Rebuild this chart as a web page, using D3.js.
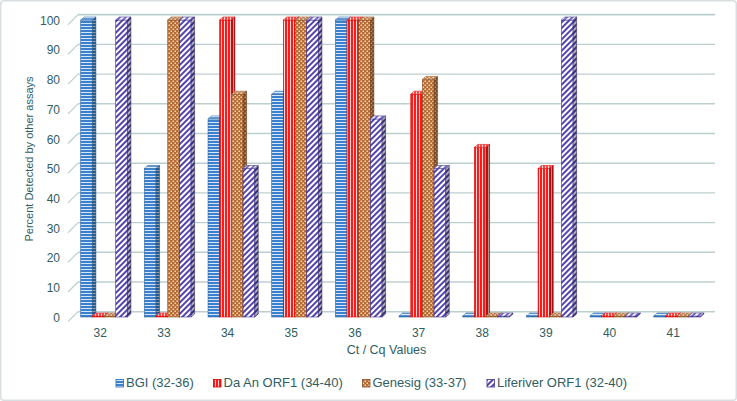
<!DOCTYPE html>
<html><head><meta charset="utf-8">
<script src="https://cdn.jsdelivr.net/npm/d3@7"></script>
<style>
html,body{margin:0;padding:0;background:#fff;}
svg{display:block;font-family:"Liberation Sans",Arial,sans-serif;}
</style></head>
<body>
<svg id="c" width="737" height="401"></svg>
<script>
const categories = ["32","33","34","35","36","37","38","39","40","41"];
const seriesNames = ["BGI (32-36)","Da An ORF1 (34-40)","Genesig (33-37)","Liferiver ORF1 (32-40)"];
const bgi       = [100, 50, 66.7, 75, 100, 0, 0, 0, 0, 0];
const daAn      = [0, 0, 100, 100, 100, 75, 57.1, 50, 0, 0];
const genesig   = [0, 100, 75, 100, 100, 80, 0, 0, 0, 0];
const liferiver = [100, 100, 50, 100, 66.7, 50, 0, 100, 0, 0];
const yTicks = [0,10,20,30,40,50,60,70,80,90,100];
const seriesValues = [bgi, daAn, genesig, liferiver];

const svg = d3.select("#c");
const textColor = "#2f5d62";
const gridColor = "#bccfcf";

svg.append("rect").attr("x",0.75).attr("y",0.75).attr("width",735.5).attr("height",399.5)
  .attr("rx",3).attr("fill","#fff").attr("stroke","#d9dfe0").attr("stroke-width",1.5);

const defs = svg.append("defs");
// BGI: blue horizontal stripes
let p = defs.append("pattern").attr("id","p0").attr("patternUnits","userSpaceOnUse").attr("width",4).attr("height",3);
p.append("rect").attr("width",4).attr("height",3).attr("fill","#3a80cc");
p.append("rect").attr("y",2).attr("width",4).attr("height",1).attr("fill","#d6e6f6");
// Da An: red vertical stripes
p = defs.append("pattern").attr("id","p1").attr("patternUnits","userSpaceOnUse").attr("width",3).attr("height",4);
p.append("rect").attr("width",3).attr("height",4).attr("fill","#ff1a1a");
p.append("rect").attr("x",2).attr("width",1).attr("height",4).attr("fill","#ffd6d6");
// Genesig: brown checker dots
p = defs.append("pattern").attr("id","p2").attr("patternUnits","userSpaceOnUse").attr("width",4).attr("height",4);
p.append("rect").attr("width",4).attr("height",4).attr("fill","#b86a30");
p.append("rect").attr("x",0.5).attr("y",0.5).attr("width",1.5).attr("height",1.5).attr("fill","#f3dcc4");
p.append("rect").attr("x",2.5).attr("y",2.5).attr("width",1.5).attr("height",1.5).attr("fill","#f3dcc4");
// Liferiver: purple diagonal stripes
p = defs.append("pattern").attr("id","p3").attr("patternUnits","userSpaceOnUse").attr("width",4).attr("height",4)
  .attr("patternTransform","rotate(45)");
p.append("rect").attr("width",4).attr("height",4).attr("fill","#ffffff");
p.append("rect").attr("width",2).attr("height",4).attr("fill","#5444ad");
const edgeColors = ["#2e6aa8","#e00000","#8c5026","#3e3290"];

// scales
const x = d3.scaleBand().domain(categories).range([72.4, 709.1]).padding(0);
const xs = d3.scaleBand().domain(seriesNames).range([8.3, 55.0]).padding(0);
const y = d3.scaleLinear().domain([0,100]).range([317, 20]);
const wallDy = -5.3;   // back wall relative to bar plane
const wallX0 = 78, wallX1 = 715;
const depthDx = 3.5, depthDy = -3;   // bar depth

// gridlines on back wall
svg.append("g").selectAll("line").data(yTicks).join("line")
  .attr("x1",wallX0).attr("x2",wallX1)
  .attr("y1",d=>y(d)+wallDy).attr("y2",d=>y(d)+wallDy)
  .attr("stroke",gridColor).attr("stroke-width",d=>d===100?1.8:1.4);
// diagonal tick marks
svg.append("g").selectAll("line").data(yTicks).join("line")
  .attr("x1",68).attr("y1",d=>y(d)+wallDy+10)
  .attr("x2",wallX0).attr("y2",d=>y(d)+wallDy)
  .attr("stroke",gridColor).attr("stroke-width",1.2);
// y tick labels
svg.append("g").selectAll("text").data(yTicks).join("text")
  .attr("x",60).attr("y",d=>y(d)+1.6).attr("text-anchor","end").attr("dominant-baseline","middle")
  .attr("font-size",12).attr("fill",textColor).text(d=>d);

// bars
const bars = svg.append("g");
categories.forEach((c,ci)=>{
  seriesNames.forEach((s,si)=>{
    const v = seriesValues[si][ci];
    const x0 = x(c) + xs(s);
    const w = xs.bandwidth();
    const yb = y(0);
    const yt = Math.min(y(v), yb - 1);
    const g = bars.append("g");
    const fill = `url(#p${si})`;
    g.append("rect").attr("x",x0).attr("y",yt).attr("width",w).attr("height",yb-yt)
      .attr("fill",fill).attr("stroke",edgeColors[si]).attr("stroke-width",0.6);
    const top = [[x0,yt],[x0+w,yt],[x0+w+depthDx,yt+depthDy],[x0+depthDx,yt+depthDy]];
    g.append("polygon").attr("points",top.map(q=>q.join(",")).join(" ")).attr("fill",fill)
      .attr("stroke",edgeColors[si]).attr("stroke-width",0.6);
    g.append("polygon").attr("points",top.map(q=>q.join(",")).join(" ")).attr("fill","#fff").attr("opacity",0.2);
    const side = [[x0+w,yt],[x0+w+depthDx,yt+depthDy],[x0+w+depthDx,yb+depthDy],[x0+w,yb]];
    g.append("polygon").attr("points",side.map(q=>q.join(",")).join(" ")).attr("fill",fill)
      .attr("stroke",edgeColors[si]).attr("stroke-width",0.6);
    g.append("polygon").attr("points",side.map(q=>q.join(",")).join(" ")).attr("fill","#000").attr("opacity",0.3);
  });
});

// x labels
svg.append("g").selectAll("text").data(categories).join("text")
  .attr("x",d=>x(d)+x.bandwidth()/2-4).attr("y",333.5).attr("text-anchor","middle").attr("dominant-baseline","middle")
  .attr("font-size",12).attr("fill",textColor).text(d=>d);

// axis titles
svg.append("text").attr("x",386.5).attr("y",351).attr("text-anchor","middle").attr("dominant-baseline","middle")
  .attr("font-size",12.5).attr("fill",textColor).text("Ct / Cq Values");
svg.append("text").attr("transform","translate(30,159) rotate(-90)").attr("text-anchor","middle")
  .attr("dominant-baseline","middle").attr("font-size",11).attr("fill",textColor)
  .text("Percent Detected by other assays");

// legend
const legendX = [116, 213.5, 362.5, 487];
const lg = svg.append("g");
seriesNames.forEach((s,si)=>{
  lg.append("rect").attr("x",legendX[si]).attr("y",379.5).attr("width",7.5).attr("height",7.5)
    .attr("fill",`url(#p${si})`).attr("stroke",edgeColors[si]).attr("stroke-width",0.8);
  lg.append("text").attr("x",legendX[si]+10).attr("y",383.5).attr("dominant-baseline","middle")
    .attr("font-size",13).attr("fill",textColor).text(s);
});
</script>
</body></html>
